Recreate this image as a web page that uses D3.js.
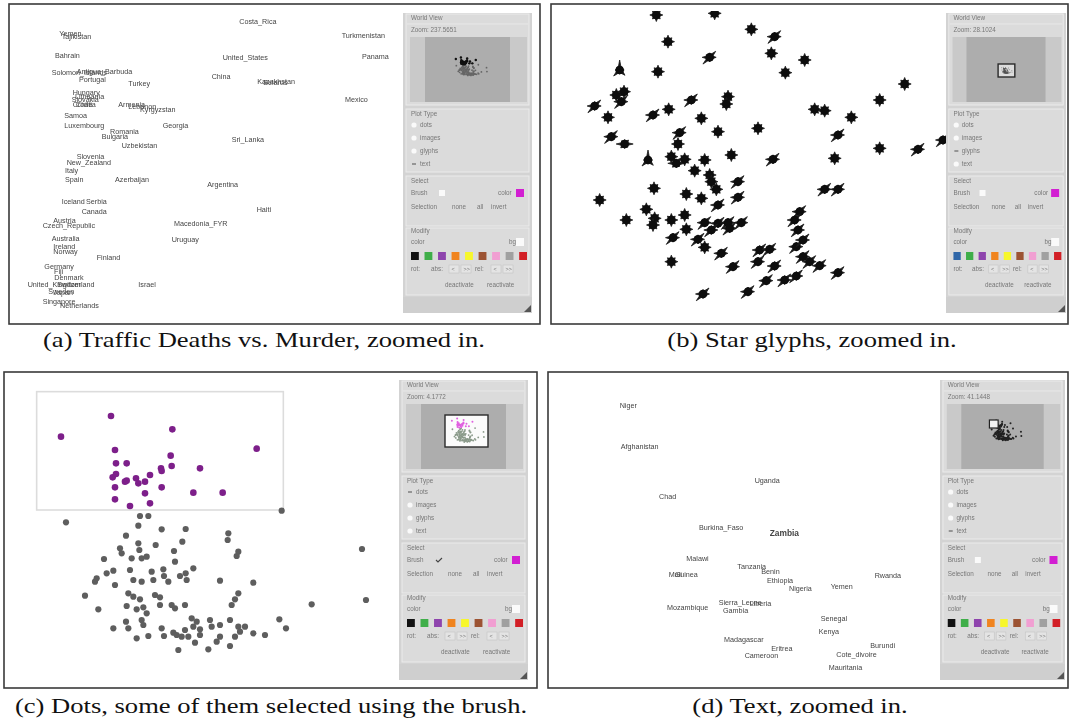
<!DOCTYPE html>
<html><head><meta charset="utf-8">
<script src="https://cdn.jsdelivr.net/npm/d3@7"></script>
<style>body{margin:0;background:#fff}svg{display:block}.gs{filter:grayscale(1)}</style>
</head><body>
<svg id="fig" width="1072" height="723"></svg>
<script>
// ---------------- DATA ----------------
// (a) Traffic deaths vs murder: label, x, y (projected plot units)
const labelsA = [
 ["Costa_Rica",718,63],["Turkmenistan",1025,105],["Panama",1086,168],["Mexico",1035,297],
 ["Yemen",178,100],["Tajikistan",185,110],["Bahrain",165,165],["United_States",668,173],
 ["Solomon_Islands",155,218],["Antigua_Barbuda",230,215],["Portugal",237,238],["Turkey",385,250],
 ["China",635,230],["Kazakhstan",772,243],["Belarus",790,246],["Hungary",218,277],
 ["Lithuania",225,290],["Slovakia",215,298],["Croatia",218,312],["Chile",228,312],
 ["Armenia",355,313],["Lebanon",385,318],["Kyrgyzstan",420,328],["Samoa",193,345],
 ["Luxembourg",193,375],["Georgia",488,377],["Romania",330,395],["Bulgaria",305,408],
 ["Sri_Lanka",695,418],["Uzbekistan",365,435],["Slovenia",230,468],["New_Zealand",200,487],
 ["Italy",195,512],["Spain",195,537],["Azerbaijan",345,537],["Argentina",622,553],
 ["Iceland",185,605],["Serbia",258,605],["Canada",245,633],["Haiti",770,628],
 ["Austria",160,660],["Czech_Republic",128,677],["Macedonia_FYR",522,670],["Australia",155,715],
 ["Uruguay",515,717],["Ireland",160,740],["Norway",160,755],["Finland",290,773],
 ["Germany",133,800],["Fiji",162,815],["Denmark",163,833],["United_Kingdom",83,853],
 ["Switzerland",172,853],["Israel",415,853],["Sweden",145,873],["Japan",160,878],
 ["Singapore",128,903],["Netherlands",180,915]
];
// (b) star glyphs: x, y, glyph profile
const glyphsB = [
 [325,45,0],[500,40,0],[610,88,0],[680,110,1],[360,125,0],[485,172,1],[670,160,0],[770,180,0],
 [215,210,2],[330,215,0],[712,218,0],[1070,252,0],[205,285,0],[228,275,0],[220,305,1],[140,318,1],
 [180,352,0],[315,345,1],[362,328,0],[430,300,1],[540,290,0],[535,312,0],[460,355,0],[800,328,0],
 [830,332,0],[910,352,0],[995,300,0],[630,385,0],[510,395,0],[395,398,1],[390,432,0],[190,410,1],
 [230,432,3],[870,405,1],[995,445,0],[1110,448,1],[1185,420,1],
 [300,480,2],[370,470,0],[385,490,3],[410,478,0],[470,480,0],[550,465,0],[675,478,1],[860,475,0],
 [440,512,0],[485,525,0],[490,545,0],[505,568,0],[570,545,1],[318,565,0],[155,600,0],[415,582,0],
 [460,595,0],[570,592,1],[510,615,1],[830,568,1],[870,568,1],
 [295,628,0],[320,655,0],[315,675,0],[370,660,0],[410,645,0],[235,660,0],[415,688,0],[470,668,1],
 [510,670,1],[540,668,1],[580,668,1],[545,685,1],[490,690,1],[375,713,1],[450,718,1],[470,742,0],
 [520,760,1],[370,785,0],[555,800,1],[635,750,1],[665,748,1],[630,785,1],[680,798,1],[745,740,1],
 [765,720,1],[755,635,1],[740,660,1],[750,690,1],[765,770,1],[785,785,1],[815,797,1],[655,842,1],
 [710,840,1],[745,828,1],[870,818,1],[465,882,1],[600,875,1]
];
// star glyph ray profiles (8 rays, clockwise from top)
const glyphProfiles = [
 [6.5,5.5,6.5,5.5,6.5,5.5,6.5,5.5],
 [4.5,8.5,6.5,4,4.5,9.5,7.5,4],
 [10,4,4.5,7.5,4,8.5,4.5,4],
 [4.5,5.5,8.5,4.5,4.5,5.5,8.5,4.5]
];
// (c) dots: selected (brushed) and unselected
const dotsSelected = [
 [183,230],[333,168],[517,208],[770,266],[345,270],[348,310],[380,310],[512,287],[515,318],[483,325],
 [485,333],[600,325],[338,352],[348,342],[375,365],[380,362],[408,355],[415,370],[435,365],[450,345],
 [345,382],[485,382],[435,400],[580,398],[668,398],[345,418],[390,438],[450,430]
];
const dotsOther = [
 [845,452],[198,487],[420,468],[445,468],[415,497],[485,508],[557,507],[378,527],[467,555],[547,545],
 [685,520],[683,540],[415,550],[418,570],[360,565],[365,580],[395,595],[425,595],[440,590],[522,573],
 [715,575],[710,588],[312,597],[525,605],[340,632],[320,640],[290,655],[285,665],[390,630],[455,635],
 [490,628],[492,648],[460,660],[400,660],[425,665],[345,675],[505,665],[540,648],[557,640],[580,625],
 [560,660],[660,662],[760,668],[255,707],[385,700],[400,710],[465,705],[480,712],[420,718],[715,700],
 [705,718],[695,735],[380,738],[410,748],[430,742],[440,760],[480,735],[515,735],[525,745],[555,735],
 [935,733],[295,748],[425,780],[430,795],[378,785],[385,805],[340,805],[410,835],[445,828],[485,805],
 [492,828],[520,818],[530,825],[545,830],[555,810],[565,830],[580,800],[600,808],[600,825],[575,775],
 [590,785],[630,780],[635,800],[660,795],[690,780],[715,800],[720,815],[705,830],[735,800],[760,820],
 [795,825],[838,778],[858,805],[535,870],[585,848],[625,868],[650,845],[660,830],[690,858],[1086,567],
 [1098,720]
];
const brushExtent = [[110,95],[850,450]];
// (d) text labels
const labelsD = [
 ["Niger",215,135],["Afghanistan",218,258],["Uganda",620,362],["Chad",333,410],["Burkina_Faso",453,502],
 ["Zambia",665,520],["Malawi",415,595],["Mali",362,643],["Guinea",380,643],["Tanzania",568,620],
 ["Benin",640,635],["Ethiopia",657,660],["Nigeria",723,685],["Yemen",848,680],["Rwanda",980,645],
 ["Sierra_Leone",512,728],["Liberia",605,730],["Mozambique",357,743],["Gambia",525,750],["Senegal",818,775],
 ["Kenya",812,815],["Madagascar",528,838],["Eritrea",670,865],["Burundi",967,857],["Cote_divoire",865,882],
 ["Cameroon",590,887],["Mauritania",842,922]
];
const captions = [
 "(a) Traffic Deaths vs. Murder, zoomed in.",
 "(b) Star glyphs, zoomed in.",
 "(c) Dots, some of them selected using the brush.",
 "(d) Text, zoomed in."
];
const zoomTexts = ["Zoom: 237.5651","Zoom: 28.1024","Zoom: 4.1772","Zoom: 41.1448"];
const plotTypes = ["dots","images","glyphs","text"];
const swatchColors = ["#111111","#3fae49","#8e44ad","#f0841f","#f7f72c","#9c5333","#f19fd2","#a0a0a0","#d21f26"];

// ---------------- DRAW ----------------
const svg = d3.select("#fig");
const defs = svg.append("defs");
const FONT = "'Liberation Sans', Arial, sans-serif";

function frame(x0,y0,x1,y1){
  svg.append("rect").attr("x",x0).attr("y",y0).attr("width",x1-x0).attr("height",y1-y0)
    .attr("fill","#fff").attr("stroke","#3a3a3a").attr("stroke-width",1.6);
}
function clip(id,x,y,w,h){
  defs.append("clipPath").attr("id",id).append("rect").attr("x",x).attr("y",y).attr("width",w).attr("height",h);
}

// Panel frames
frame(9,4,540,324);
frame(551,4,1068,324);
frame(4,372,537,688);
frame(548,372,1068,688);

// ---- (a) text plot ----
clip("ca",10,5,393,318);
const xA = d3.scaleLinear().domain([0,1080]).range([0,360]);
const yA = d3.scaleLinear().domain([0,960]).range([0,320]);
svg.append("g").attr("clip-path","url(#ca)").append("g").attr("class","gs")
  .selectAll("text").data(labelsA).join("text")
  .attr("x",d=>xA(d[1])).attr("y",d=>yA(d[2])).attr("dy","0.35em")
  .attr("font-family",FONT).attr("font-size",7.2).attr("fill","#444").text(d=>d[0]);

// ---- (b) star glyphs ----
clip("cb",552,11,400,312);
const xB = d3.scaleLinear().domain([0,1140]).range([548,928]);
const yB = d3.scaleLinear().domain([0,960]).range([0,320]);
const starPath = prof => {
  const pts = [];
  prof.forEach((r,i)=>{
    pts.push([i*Math.PI/4, r]);
    pts.push([(i+0.5)*Math.PI/4, 3.4]);
  });
  return d3.lineRadial().curve(d3.curveLinearClosed)(pts);
};
const gB = svg.append("g").attr("clip-path","url(#cb)");
const gl = gB.selectAll("g").data(glyphsB).join("g")
  .attr("transform",d=>`translate(${xB(d[0])},${yB(d[1])})`);
gl.append("path").attr("d",d=>starPath(glyphProfiles[d[2]])).attr("fill","#1a1a1a")
  .attr("stroke","#1a1a1a").attr("stroke-width",0.8).attr("stroke-linejoin","round");
gl.append("circle").attr("r",4.3).attr("fill","#0d0d0d");

// ---- (c) dots with brush ----
const xC = d3.scaleLinear().domain([0,1080]).range([0,360]);
const yC = d3.scaleLinear().domain([0,990]).range([360,690]);
svg.append("rect").attr("x",xC(brushExtent[0][0])).attr("y",yC(brushExtent[0][1]))
  .attr("width",xC(brushExtent[1][0])-xC(brushExtent[0][0]))
  .attr("height",yC(brushExtent[1][1])-yC(brushExtent[0][1]))
  .attr("fill","none").attr("stroke","#dcdcdc").attr("stroke-width",1.6);
svg.append("g").selectAll("circle").data(dotsOther).join("circle")
  .attr("cx",d=>xC(d[0])).attr("cy",d=>yC(d[1])).attr("r",3.1).attr("fill","#5e5e5e");
svg.append("g").selectAll("circle").data(dotsSelected).join("circle")
  .attr("cx",d=>xC(d[0])).attr("cy",d=>yC(d[1])).attr("r",3.3).attr("fill","#7d1f8a");

// ---- (d) text plot ----
clip("cd",549,373,390,314);
const xD = d3.scaleLinear().domain([0,1080]).range([548,908]);
const yD = d3.scaleLinear().domain([0,990]).range([360,690]);
svg.append("g").attr("clip-path","url(#cd)").append("g").attr("class","gs")
  .selectAll("text").data(labelsD).join("text")
  .attr("x",d=>xD(d[1])).attr("y",d=>yD(d[2])).attr("dy","0.35em")
  .attr("font-family",FONT).attr("font-size",d=>d[0]==="Zambia"?8.4:7.2)
  .attr("font-weight",d=>d[0]==="Zambia"?"bold":"normal")
  .attr("fill","#444").text(d=>d[0]);

// ---- control panels ----
function controlPanel(x0,y0,w,o){
  const g = svg.append("g");
  const sx = d3.scaleLinear().domain([0,129]).range([x0,x0+w]);
  g.append("rect").attr("x",x0).attr("y",y0).attr("width",w).attr("height",300).attr("fill","#d3d3d3");
  [[1,92],[96,159],[163,213],[215,282]].forEach(([a,b])=>{
    g.append("rect").attr("x",sx(3)).attr("y",y0+a).attr("width",sx(126)-sx(3)).attr("height",b-a)
     .attr("fill","#dbdbdb").attr("stroke","#ebebeb").attr("stroke-width",1);
  });
  const gt = g.append("g").attr("class","gs");
  const T = (x,y,s,extra)=>gt.append("text").attr("x",sx(x)).attr("y",y0+y).attr("dy","0.35em")
     .attr("font-family",FONT).attr("font-size",extra&&extra.fs||6.3).attr("fill",extra&&extra.c||"#777").text(s);
  // World view
  T(8,5,"World View");
  g.append("line").attr("x1",sx(4)).attr("x2",sx(125)).attr("y1",y0+11).attr("y2",y0+11).attr("stroke","#e8e8e8");
  T(8,17,o.zoom);
  g.append("rect").attr("x",sx(7)).attr("y",y0+24).attr("width",sx(124)-sx(7)).attr("height",65).attr("fill","#c9c9c9");
  g.append("rect").attr("x",sx(22)).attr("y",y0+24).attr("width",sx(107)-sx(22)).attr("height",65).attr("fill","#adadad");
  o.mini(g,sx,y0);
  // Plot type
  T(8,101,"Plot Type");
  plotTypes.forEach((p,i)=>{
    const yy = y0+112+i*13;
    if(i===o.type){
      g.append("path").attr("d",`M${sx(9)},${yy} h4`).attr("stroke","#666").attr("stroke-width",1.2);
    } else {
      g.append("circle").attr("cx",sx(11)).attr("cy",yy).attr("r",2.6).attr("fill","#fafafa");
    }
    T(17,112+i*13,p);
  });
  // Select
  T(8,168,"Select");
  T(8,180,"Brush");
  if(o.brush){
    g.append("path").attr("d",`M${sx(37)},${y0+180} l2,2 l4,-4`).attr("fill","none").attr("stroke","#444").attr("stroke-width",1.1);
  } else {
    g.append("rect").attr("x",sx(36)).attr("y",y0+177).attr("width",6).attr("height",6).attr("fill","#fafafa");
  }
  T(95,180,"color");
  g.append("rect").attr("x",sx(113)).attr("y",y0+176).attr("width",8).attr("height",8).attr("fill","#d21fd2");
  T(8,194,"Selection"); T(49,194,"none"); T(74,194,"all"); T(88,194,"invert");
  // Modify
  T(8,218,"Modify");
  T(8,229,"color"); T(106,229,"bg");
  g.append("rect").attr("x",sx(113)).attr("y",y0+225).attr("width",8).attr("height",8).attr("fill","#fafafa");
  const cols = swatchColors.slice(); cols[0]=o.first;
  const sw = d3.scaleBand().domain(d3.range(cols.length)).range([sx(8),sx(124)]).paddingInner(0.42);
  g.selectAll(".sw").data(cols).join("rect").attr("x",(d,i)=>sw(i)).attr("y",y0+239)
    .attr("width",sw.bandwidth()).attr("height",8).attr("fill",d=>d);
  T(8,256,"rot:"); T(28,256,"abs:");
  [[46,"<"],[58,">>"],[88,"<"],[100,">>"]].forEach(([x,s])=>{
    g.append("rect").attr("x",sx(x)).attr("y",y0+252).attr("width",sx(x+10)-sx(x)).attr("height",8).attr("fill","#e4e4e4").attr("stroke","#c4c4c4").attr("stroke-width",0.6);
    T(x+2.5,256,s,{fs:5.5});
  });
  T(72,256,"rel:");
  T(42,272,"deactivate"); T(84,272,"reactivate");
  g.append("rect").attr("x",x0).attr("y",y0+284).attr("width",w).attr("height",16).attr("fill","#cfcfcf");
  g.append("path").attr("d",`M${x0+w-1},${y0+292} L${x0+w-1},${y0+299} L${x0+w-8},${y0+299} Z`).attr("fill","#555");
  gt.raise();
}

// minimap renderers (world view drawn from panel (c) dot data)
const allDots = dotsSelected.concat(dotsOther);
function miniDots(g,data,bx,by,bw,bh,color,r){
  const mx = d3.scaleLinear().domain([100,1100]).range([bx,bx+bw]);
  const my = d3.scaleLinear().domain([150,930]).range([by,by+bh]);
  g.selectAll(null).data(data).join("circle").attr("cx",d=>mx(d[0])).attr("cy",d=>my(d[1])).attr("r",r).attr("fill",color);
}
controlPanel(403,13,129,{zoom:zoomTexts[0],type:3,brush:false,first:"#111",
  mini:(g,sx,y0)=>{
    miniDots(g,allDots,sx(50),y0+44,sx(84)-sx(50),20,"#666",0.9);
    miniDots(g,dotsSelected,sx(50),y0+44,sx(84)-sx(50),20,"#111",1.2);
  }});
controlPanel(946,13,120,{zoom:zoomTexts[1],type:2,brush:false,first:"#2f66a8",
  mini:(g,sx,y0)=>{
    g.append("rect").attr("x",sx(56)).attr("y",y0+51).attr("width",sx(74)-sx(56)).attr("height",13)
      .attr("fill","#dcdcdc").attr("stroke","#2a2a2a").attr("stroke-width",1.4);
    miniDots(g,allDots,sx(59),y0+54,sx(71)-sx(59),7,"#555",0.45);
  }});
controlPanel(399,380,129,{zoom:zoomTexts[2],type:0,brush:true,first:"#111",
  mini:(g,sx,y0)=>{
    g.append("rect").attr("x",sx(46)).attr("y",y0+35).attr("width",sx(89)-sx(46)).attr("height",32)
      .attr("fill","#fbfbfb").attr("stroke","#2a2a2a").attr("stroke-width",1.4);
    miniDots(g,dotsOther,sx(50),y0+38,sx(85)-sx(50),26,"#8a9a8a",0.9);
    miniDots(g,dotsSelected,sx(50),y0+38,sx(85)-sx(50),26,"#e060e0",1.0);
  }});
controlPanel(940,380,125,{zoom:zoomTexts[3],type:3,brush:false,first:"#111",
  mini:(g,sx,y0)=>{
    miniDots(g,allDots,sx(50),y0+40,sx(84)-sx(50),22,"#222",1.0);
    g.append("rect").attr("x",sx(51)).attr("y",y0+40).attr("width",sx(60)-sx(51)).attr("height",8)
      .attr("fill","#f2f2f2").attr("stroke","#222").attr("stroke-width",1.2);
  }});

// ---- captions ----
const capPos = [[264,347],[812,347],[271,713],[800,713]];
const capSel = svg.selectAll(".cap").data(captions).join("text").attr("class","cap")
  .attr("x",(d,i)=>capPos[i][0]).attr("y",(d,i)=>capPos[i][1]).attr("text-anchor","middle")
  .attr("font-family","'Liberation Serif','Times New Roman',serif").attr("font-size",22).attr("fill","#111")
  .text(d=>d);
const nat = capSel.nodes().map(n=>n.getComputedTextLength());
const k = 442/nat[0];
capSel.attr("textLength",(d,i)=>nat[i]*k).attr("lengthAdjust","spacingAndGlyphs");
</script>
</body></html>
